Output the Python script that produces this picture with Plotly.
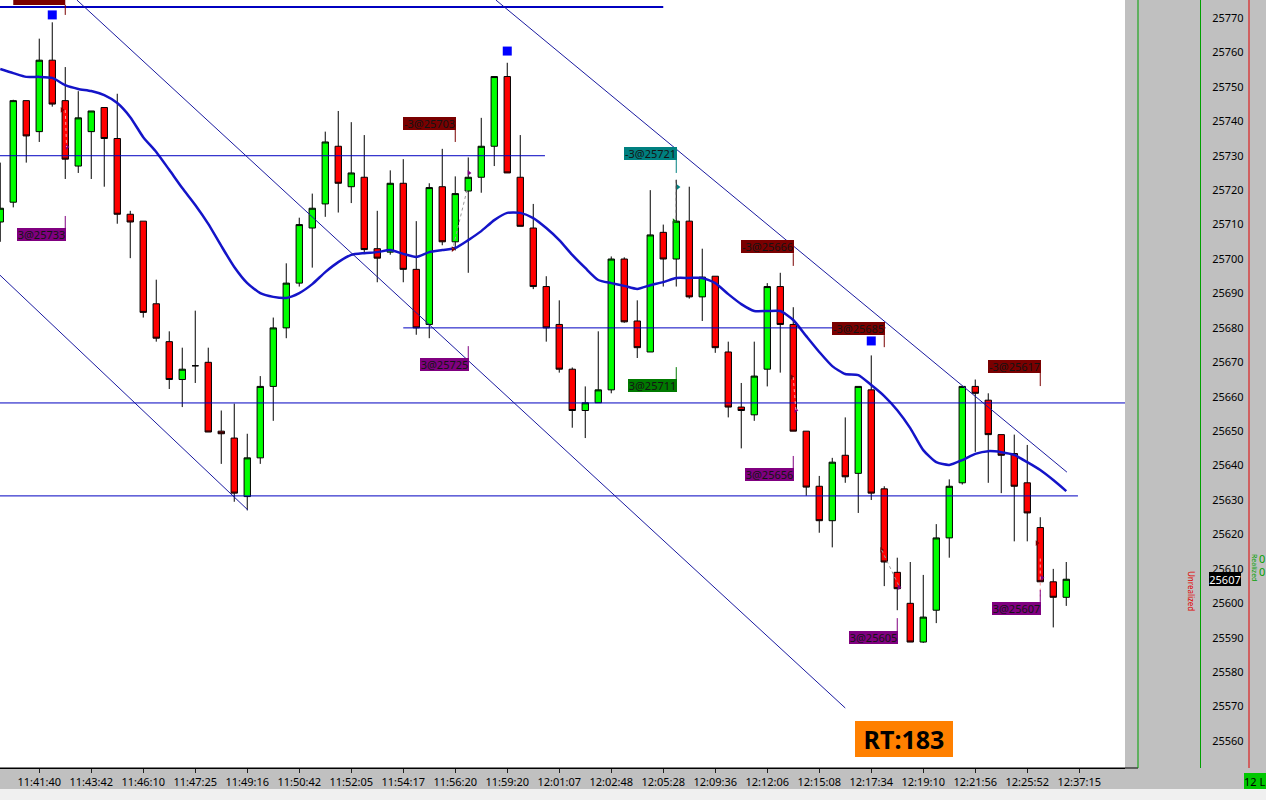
import plotly.graph_objects as go

# ---------------- data ----------------
candle_idx = list(range(83))
open_ = [25710.75, 25716.5, 25746.0, 25737.0, 25757.75, 25746.0, 25727.0, 25737.0, 25744.0, 25735.0,
         25713.0, 25711.0, 25687.0, 25676.0, 25665.0, 25669.0, 25670.0, 25650.0, 25648.0, 25631.0,
         25642.25, 25663.0, 25680.0, 25693.0, 25709.0, 25716.0, 25732.75, 25721.0, 25723.75, 25703.0,
         25702.0, 25722.0, 25697.0, 25681.0, 25721.0, 25705.0, 25719.75, 25723.75, 25732.75, 25753.0,
         25723.75, 25709.0, 25692.0, 25681.0, 25668.0, 25656.0, 25658.25, 25662.0, 25700.0, 25682.0,
         25673.0, 25707.75, 25700.0, 25711.0, 25689.0, 25695.0, 25673.0, 25657.0, 25654.75, 25668.0,
         25692.0, 25681.0, 25650.0, 25634.0, 25624.0, 25643.0, 25637.75, 25662.0, 25633.25, 25609.0,
         25600.0, 25588.75, 25598.0, 25619.0, 25635.0, 25663.0, 25659.0, 25649.0, 25643.5, 25635.0,
         25622.0, 25606.25, 25601.75]
high = [25728.0, 25746.25, 25746.0, 25764.0, 25768.75, 25755.75, 25748.75, 25743.0, 25744.0, 25748.0,
        25714.0, 25711.0, 25694.0, 25679.0, 25674.25, 25685.0, 25674.25, 25656.0, 25658.0, 25649.25,
        25666.0, 25683.0, 25698.75, 25712.0, 25719.0, 25737.0, 25743.0, 25739.75, 25736.0, 25714.0,
        25725.75, 25729.0, 25711.0, 25722.0, 25732.0, 25724.0, 25729.5, 25741.0, 25753.0, 25757.0,
        25736.0, 25716.0, 25695.0, 25688.0, 25668.5, 25663.0, 25679.0, 25700.75, 25700.5, 25688.0,
        25720.0, 25710.0, 25723.0, 25721.0, 25703.0, 25695.0, 25676.0, 25664.0, 25676.0, 25693.0,
        25696.0, 25686.0, 25650.0, 25637.0, 25642.25, 25654.0, 25663.0, 25672.0, 25634.0, 25613.25,
        25612.0, 25608.25, 25623.0, 25636.0, 25663.0, 25665.0, 25661.0, 25649.0, 25649.0, 25646.0,
        25625.0, 25610.0, 25612.0]
low = [25705.0, 25715.0, 25728.0, 25734.0, 25744.25, 25723.25, 25725.0, 25723.25, 25721.0, 25710.25,
       25700.25, 25683.0, 25676.0, 25662.25, 25657.0, 25664.0, 25649.75, 25640.5, 25629.5, 25627.0,
       25640.5, 25653.0, 25677.0, 25692.0, 25697.5, 25712.25, 25713.5, 25716.25, 25702.0, 25693.25,
       25701.25, 25693.25, 25678.0, 25677.0, 25704.0, 25702.5, 25696.0, 25719.25, 25727.0, 25725.0,
       25709.5, 25691.25, 25676.0, 25667.0, 25651.0, 25648.0, 25658.25, 25661.0, 25681.5, 25671.25,
       25673.0, 25692.0, 25692.0, 25688.5, 25682.0, 25672.75, 25654.0, 25645.0, 25653.0, 25663.0,
       25667.0, 25650.0, 25631.25, 25620.5, 25616.25, 25635.0, 25626.25, 25630.0, 25605.0, 25598.0,
       25588.75, 25588.5, 25594.25, 25613.25, 25634.5, 25644.0, 25635.0, 25632.0, 25618.0, 25618.0,
       25606.25, 25593.0, 25599.25]
close = [25714.75, 25746.0, 25735.75, 25757.75, 25745.0, 25729.0, 25741.0, 25743.0, 25735.0, 25713.0,
         25710.75, 25684.5, 25677.0, 25665.0, 25668.0, 25669.0, 25649.75, 25649.25, 25632.0, 25642.25,
         25663.0, 25680.0, 25693.0, 25710.0, 25714.75, 25734.0, 25722.0, 25725.0, 25702.75, 25700.25,
         25722.0, 25697.0, 25680.0, 25720.75, 25705.0, 25719.0, 25723.75, 25732.75, 25753.0, 25725.0,
         25709.5, 25692.0, 25680.0, 25668.0, 25656.0, 25658.25, 25662.0, 25700.0, 25681.75, 25674.25,
         25707.0, 25700.0, 25711.0, 25689.0, 25694.75, 25674.25, 25657.0, 25656.0, 25666.0, 25692.0,
         25681.0, 25650.0, 25633.75, 25624.0, 25641.0, 25636.75, 25663.0, 25632.0, 25612.0, 25604.25,
         25588.75, 25596.0, 25619.0, 25634.0, 25663.0, 25661.0, 25649.0, 25643.0, 25634.0, 25626.25,
         25606.25, 25601.75, 25607.0]
ema = [25755.2, 25754.0, 25752.9, 25752.9, 25752.6, 25750.5, 25749.4, 25748.8, 25747.6, 25745.3,
       25741.2, 25735.4, 25731.1, 25725.9, 25720.6, 25715.7, 25710.2, 25703.8, 25697.7, 25693.0,
       25690.1, 25689.0, 25688.7, 25690.1, 25692.7, 25696.2, 25699.1, 25701.2, 25701.7, 25702.0,
       25702.6, 25701.5, 25700.6, 25702.0, 25702.6, 25703.2, 25705.5, 25708.1, 25711.3, 25713.4,
       25713.4, 25711.9, 25709.0, 25705.5, 25701.2, 25697.4, 25693.9, 25693.0, 25692.2, 25691.3,
       25692.4, 25693.3, 25694.5, 25694.5, 25694.5, 25693.0, 25689.8, 25686.9, 25684.9, 25684.9,
       25684.9, 25682.3, 25677.6, 25673.0, 25668.9, 25666.6, 25666.3, 25663.4, 25660.2, 25656.1,
       25650.9, 25644.5, 25641.0, 25640.2, 25641.6, 25643.4, 25644.2, 25643.9, 25643.1, 25641.0,
       25638.7, 25635.8, 25632.6]

time_tick_idx = [3, 7, 11, 15, 19, 23, 27, 31, 35, 39, 43, 47, 51, 55, 59, 63, 67, 71, 75, 79, 83]
time_labels = ["11:41:40", "11:43:42", "11:46:10", "11:47:25", "11:49:16", "11:50:42", "11:52:05",
               "11:54:17", "11:56:20", "11:59:20", "12:01:07", "12:02:48", "12:05:28", "12:09:36",
               "12:12:06", "12:15:08", "12:17:34", "12:19:10", "12:21:56", "12:25:52", "12:37:15"]
price_ticks = list(range(25560, 25771, 10))
last_price = 25607

# horizontal levels
hl_price = [25773.2, 25730.0, 25680.0, 25658.2, 25631.2]
hl_start = [-1, -1, 31.0, -1, -1]
hl_end = [51.0, 41.9, 68.1, 86.6, 82.9]
hl_width = [2, 1, 1, 1, 1]

# trend lines (index, price) -> (index, price)
tl_x0 = [5.9, -0.02, 38.13]
tl_p0 = [25775.2, 25695.3, 25775.2]
tl_x1 = [65.0, 19.05, 82.05]
tl_p1 = [25569.6, 25627.1, 25638.1]

# blue signal squares
sq_idx = [4, 39, 67]
sq_price = [25770.9, 25760.4, 25676.2]

# trade labels
lbl_text = ["3@25733", "-3@25703", "-3@25721", "-3@25666", "-3@25685", "-3@25617",
            "3@25725", "3@25711", "3@25656", "3@25605", "3@25607"]
lbl_idx = [5, 35, 52, 61, 68, 80, 36, 52, 61, 69, 80]
lbl_price = [25707.0, 25739.5, 25730.6, 25703.6, 25679.8, 25668.8,
             25669.4, 25663.3, 25637.4, 25590.2, 25598.5]
lbl_color = ["#800080", "#7a0000", "#008080", "#7a0000", "#7a0000", "#7a0000",
             "#800080", "#007a00", "#800080", "#800080", "#800080"]
lbl_tick_p0 = [25712.5, 25737.8, 25728.8, 25701.7, 25677.9, 25666.9,
               25674.7, 25668.6, 25642.8, 25595.7, 25603.9]
lbl_tick_p1 = [25708.7, 25734.0, 25725.0, 25698.0, 25674.4, 25663.1,
               25671.2, 25665.1, 25639.3, 25591.9, 25600.4]

# dashed trade links
lk_x0 = [5.0, 35.9, 52.0, 61.0, 67.8, 80.0]
lk_p0 = [25743.3, 25720.0, 25723.0, 25665.7, 25615.5, 25613.0]
lk_x1 = [5.1, 34.8, 52.0, 61.2, 69.2, 80.0]
lk_p1 = [25732.5, 25702.9, 25711.3, 25656.1, 25604.5, 25602.0]
lk_color = ["#ff9a9a", "#9a9a9a", "#505050", "#ff9a9a", "#9a9a9a", "#ff9a9a"]

# fill arrows (execution markers)
ex_idx = [4.75, 5.13, 36.05, 34.83, 52.13, 51.83, 60.9, 61.2, 67.8, 69.13, 79.75, 80.13]
ex_price = [25743.3, 25732.5, 25725.0, 25702.9, 25720.9, 25711.0,
            25665.7, 25656.1, 25615.5, 25604.7, 25617.5, 25607.4]
ex_color = ["#7a0000", "#800080", "#800080", "#7a0000", "#008080", "#007a00",
            "#7a0000", "#800080", "#7a0000", "#800080", "#7a0000", "#800080"]

# ---------------- figure ----------------
FW, FH = 1266, 800
PLOT_W, PLOT_H = 1125, 768
FONT = "Noto Sans"

fig = go.Figure()
fig.add_trace(go.Candlestick(
    x=candle_idx, open=open_, high=high, low=low, close=close,
    increasing=dict(line=dict(color="black", width=1), fillcolor="#00ff00"),
    decreasing=dict(line=dict(color="black", width=1), fillcolor="#ff0000"),
    whiskerwidth=0, showlegend=False, hoverinfo="skip"))
fig.add_trace(go.Scatter(
    x=candle_idx, y=ema, mode="lines",
    line=dict(color="#1414c8", width=2.5, shape="spline", smoothing=0.6),
    showlegend=False, hoverinfo="skip"))
fig.add_trace(go.Scatter(
    x=sq_idx, y=sq_price, mode="markers",
    marker=dict(symbol="square", size=9, color="#0000ff"),
    showlegend=False, hoverinfo="skip"))
fig.add_trace(go.Scatter(
    x=ex_idx, y=ex_price, mode="markers",
    marker=dict(symbol="triangle-right", size=5, color=ex_color),
    showlegend=False, hoverinfo="skip"))

shapes = []
for p, a, b, w in zip(hl_price, hl_start, hl_end, hl_width):
    shapes.append(dict(type="line", xref="x", yref="y", x0=a, x1=b, y0=p, y1=p,
                       line=dict(color="#0000c0", width=w)))
for a, pa, b, pb in zip(tl_x0, tl_p0, tl_x1, tl_p1):
    shapes.append(dict(type="line", xref="x", yref="y", x0=a, x1=b, y0=pa, y1=pb,
                       line=dict(color="#1a1aa0", width=1)))
for a, pa, b, pb, c in zip(lk_x0, lk_p0, lk_x1, lk_p1, lk_color):
    shapes.append(dict(type="line", xref="x", yref="y", x0=a, x1=b, y0=pa, y1=pb,
                       line=dict(color=c, width=1, dash="dot")))
for i, pa, pb, c in zip(lbl_idx, lbl_tick_p0, lbl_tick_p1, lbl_color):
    shapes.append(dict(type="line", xref="x", yref="y", x0=i, x1=i, y0=pa, y1=pb,
                       line=dict(color=c, width=1)))
# partially hidden label at top-left
shapes.append(dict(type="rect", xref="x", yref="y", x0=1.0, x1=5.0, y0=25773.8, y1=25778.0,
                   fillcolor="#7a0000", line=dict(width=0)))
shapes.append(dict(type="line", xref="x", yref="y", x0=5, x1=5, y0=25773.8, y1=25770.9,
                   line=dict(color="#7a0000", width=1)))

# panel decorations (paper coords: x over full width, y over plot height)
def px(xp):
    return xp / FW
def py(yp):
    return (PLOT_H - yp) / PLOT_H

shapes += [
    dict(type="rect", xref="paper", yref="paper", x0=0, x1=1, y0=py(789), y1=py(800),
         fillcolor="#f0f0f0", line=dict(width=0)),
    dict(type="line", xref="paper", yref="paper", x0=0, x1=px(1138), y0=0, y1=0,
         line=dict(color="black", width=1)),
    dict(type="line", xref="paper", yref="paper", x0=px(1138), x1=px(1138), y0=0, y1=1,
         line=dict(color="#00a000", width=1)),
    dict(type="line", xref="paper", yref="paper", x0=px(1249), x1=px(1249), y0=0, y1=1,
         line=dict(color="#e00000", width=1)),
]

ann = []
for t, i, p, c in zip(lbl_text, lbl_idx, lbl_price, lbl_color):
    w = 53 if t.startswith("-") else 49
    ann.append(dict(x=i + 0.06, y=p, xref="x", yref="y", text=t, showarrow=False,
                    xanchor="right", yanchor="middle", bgcolor=c, width=w, height=13,
                    borderpad=0, borderwidth=0,
                    font=dict(family=FONT, size=11, color="#141414")))
ann.append(dict(x=px(904), y=py(739), xref="paper", yref="paper", text="<b>RT:183</b>",
                showarrow=False, xanchor="center", yanchor="middle", bgcolor="#ff8000",
                width=98, height=36, borderpad=0, borderwidth=0,
                font=dict(family=FONT, size=25, color="black")))
ann.append(dict(x=px(1209), y=last_price, xref="paper", yref="y", text=str(last_price),
                showarrow=False, xanchor="left", yanchor="middle", bgcolor="black",
                width=32, height=14, borderpad=0, borderwidth=0,
                font=dict(family=FONT, size=11, color="white")))
ann.append(dict(x=px(1244), y=py(780.5), xref="paper", yref="paper", text="12 L",
                showarrow=False, xanchor="left", yanchor="middle", bgcolor="#00c800",
                width=30, height=16, borderpad=0, borderwidth=0, align="left",
                font=dict(family=FONT, size=11, color="black")))
ann.append(dict(x=px(1192), y=py(591), xref="paper", yref="paper", text="Unrealized",
                showarrow=False, textangle=90, xanchor="center", yanchor="middle",
                font=dict(family=FONT, size=8, color="#e00000")))
ann.append(dict(x=px(1255), y=py(567), xref="paper", yref="paper", text="Realized",
                showarrow=False, textangle=90, xanchor="center", yanchor="middle",
                font=dict(family=FONT, size=7, color="#00a000")))
for yy in (558, 571):
    ann.append(dict(x=px(1262), y=py(yy), xref="paper", yref="paper", text="0",
                    showarrow=False, xanchor="center", yanchor="middle",
                    font=dict(family=FONT, size=11, color="#00a000")))

fig.update_layout(
    width=FW, height=FH, autosize=False,
    margin=dict(l=0, r=0, t=0, b=FH - PLOT_H, pad=0, autoexpand=False),
    paper_bgcolor="#c0c0c0", plot_bgcolor="white",
    boxgap=0.3, showlegend=False, hovermode=False,
    shapes=shapes, annotations=ann,
    xaxis=dict(domain=[0, PLOT_W / FW], range=[-0.02, PLOT_W / 13 - 0.02],
               tickmode="array", tickvals=time_tick_idx, ticktext=time_labels,
               ticks="outside", ticklen=4, tickcolor="#202020",
               showgrid=False, zeroline=False, showline=True, linecolor="black",
               rangeslider=dict(visible=False), automargin=False,
               tickfont=dict(family=FONT, size=11, color="black")),
    yaxis=dict(anchor="free", position=1200 / FW, side="right",
               range=[25552.17, 25775.23], tickmode="array", tickvals=price_ticks,
               ticktext=[str(v) for v in price_ticks], automargin=False,
               showgrid=False, zeroline=False, showline=True, linecolor="#00a000",
               ticks="", ticklabelstandoff=9,
               tickfont=dict(family=FONT, size=11, color="black")),
)

fig.write_html("out.html", config={"displayModeBar": False},
               post_script="document.body.style.margin='0px';document.body.style.overflow='hidden';")
